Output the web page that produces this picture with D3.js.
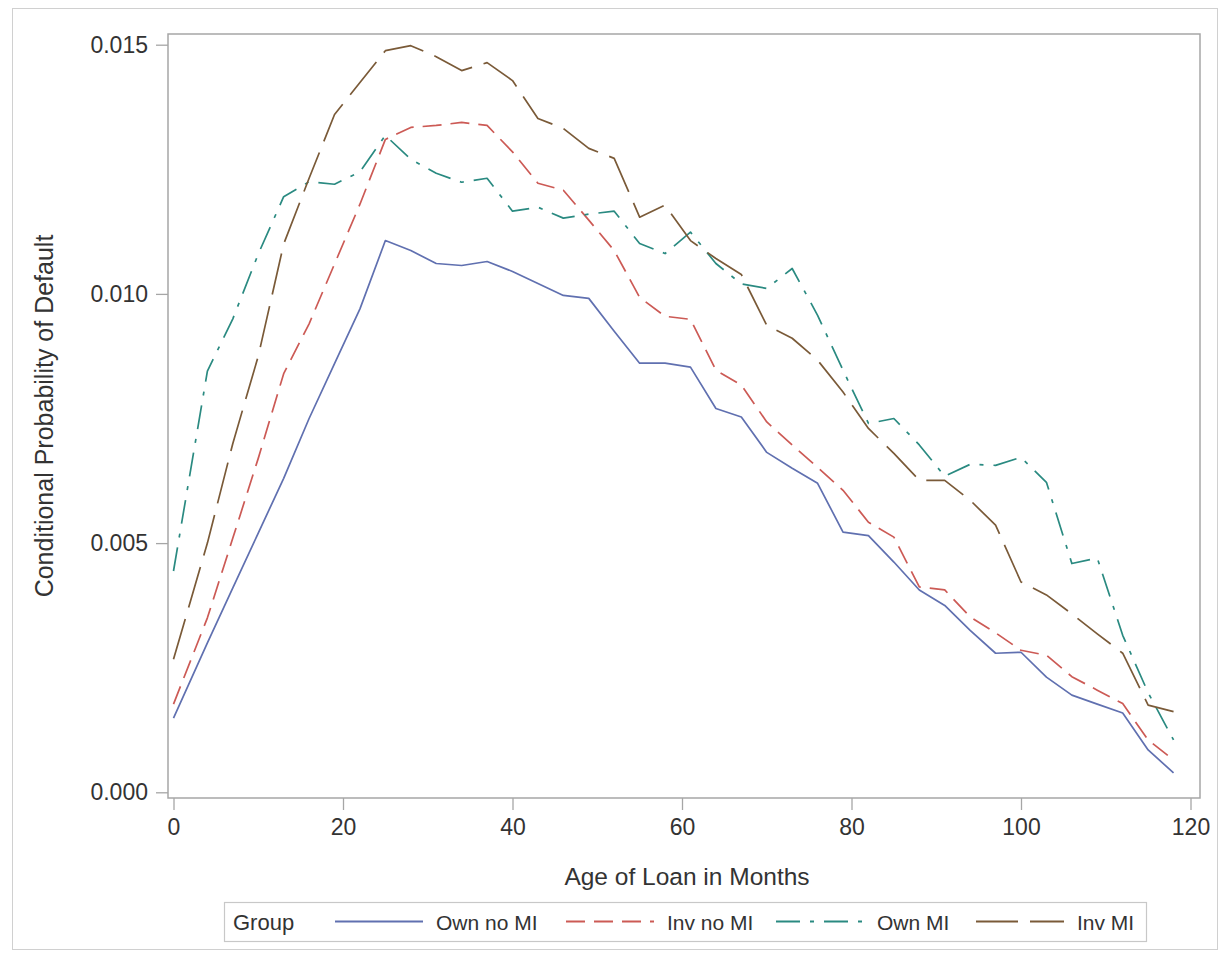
<!DOCTYPE html>
<html>
<head>
<meta charset="utf-8">
<script src="https://cdn.jsdelivr.net/npm/d3@7/dist/d3.min.js"></script>
<style>
  html, body { margin: 0; padding: 0; background: #fff; }
  svg { display: block; }
  text { font-family: "Liberation Sans", Arial, sans-serif; fill: #333; }
</style>
</head>
<body>
<svg id="chart" width="1221" height="955"></svg>
<script>
// Loan age in months at which each conditional default rate was measured
const ages = [0, 4, 7, 10, 13, 16, 19, 22, 25, 28, 31, 34, 37, 40, 43, 46, 49, 52, 55, 58,
              61, 64, 67, 70, 73, 76, 79, 82, 85, 88, 91, 94, 97, 100, 103, 106, 109, 112, 115, 118];

// Conditional probability of default by group
const ownNoMI = [0.00149, 0.0030, 0.0041, 0.0052, 0.0063, 0.0075, 0.0086, 0.0097, 0.01107, 0.01087,
                 0.01061, 0.01057, 0.01065, 0.01045, 0.01021, 0.00997, 0.00991, 0.00925, 0.00861, 0.00861,
                 0.00853, 0.00770, 0.00753, 0.00682, 0.00650, 0.00620, 0.00522, 0.00515, 0.00462, 0.00406,
                 0.00375, 0.00325, 0.00279, 0.00281, 0.00231, 0.00195, 0.00177, 0.00159, 0.00085, 0.00039];

const invNoMI = [0.00177, 0.0035, 0.0051, 0.0067, 0.0084, 0.0094, 0.0106, 0.0118, 0.01310, 0.01334,
                 0.01338, 0.01344, 0.01338, 0.01285, 0.01222, 0.01208, 0.01148, 0.01087, 0.00993, 0.00955,
                 0.00949, 0.00847, 0.00817, 0.00743, 0.00697, 0.00652, 0.00606, 0.00542, 0.00512, 0.00412,
                 0.00406, 0.00352, 0.00320, 0.00285, 0.00275, 0.00232, 0.00205, 0.00178, 0.00105, 0.00065];

const ownMI = [0.00444, 0.00845, 0.0095, 0.0108, 0.01195, 0.01225, 0.0122, 0.01245, 0.01318, 0.01270,
               0.01242, 0.01224, 0.01232, 0.01166, 0.01174, 0.01152, 0.01160, 0.01166, 0.01101, 0.01081,
               0.01124, 0.01061, 0.01020, 0.01011, 0.01051, 0.00957, 0.00847, 0.00740, 0.00750, 0.00697,
               0.00634, 0.00658, 0.00656, 0.00672, 0.00622, 0.00459, 0.00470, 0.00315, 0.00200, 0.00105];

const invMI = [0.00267, 0.0050, 0.0070, 0.00875, 0.0110, 0.01232, 0.0136, 0.01424, 0.01488, 0.01498,
               0.01476, 0.01448, 0.01464, 0.01428, 0.01352, 0.01332, 0.01292, 0.01272, 0.01154, 0.01178,
               0.01107, 0.01071, 0.01039, 0.00937, 0.00911, 0.00867, 0.00803, 0.00730, 0.00680, 0.00626,
               0.00626, 0.00586, 0.00536, 0.00422, 0.00396, 0.00358, 0.00318, 0.00279, 0.00175, 0.00162];

const groupNames = ["Own no MI", "Inv no MI", "Own MI", "Inv MI"];
const groupValues = [ownNoMI, invNoMI, ownMI, invMI];
const groupColors = ["#6070b0", "#cc5a55", "#2a8a81", "#7a5a38"];
const groupDashes = [null, "19,9", "24,10,4,10", "42,12"];

const xTicks = [0, 20, 40, 60, 80, 100, 120];
const yTicks = [0, 0.005, 0.010, 0.015];

const FONT = "'Liberation Sans', Arial, sans-serif";

const svg = d3.select("#chart");

// Outer graph border
svg.append("rect")
  .attr("x", 12.5).attr("y", 8.5).attr("width", 1205).attr("height", 941)
  .attr("fill", "none").attr("stroke", "#d0d0d0").attr("stroke-width", 1);

const frame = { left: 168, right: 1200, top: 34, bottom: 798 };

const x = d3.scaleLinear().domain([0, 120]).range([173.5, 1190.5]);
const y = d3.scaleLinear().domain([0, 0.015]).range([792.3, 44.7]);

// Axes
const xAxis = svg.append("g")
  .attr("transform", `translate(0,${frame.bottom})`)
  .call(d3.axisBottom(x).tickValues(xTicks).tickSize(12).tickPadding(9).tickFormat(d3.format("d")));
const yAxis = svg.append("g")
  .attr("transform", `translate(${frame.left},0)`)
  .call(d3.axisLeft(y).tickValues(yTicks).tickSize(12).tickPadding(8).tickFormat(d3.format(".3f")));

[xAxis, yAxis].forEach(g => {
  g.select(".domain").remove();
  g.selectAll(".tick line").attr("stroke", "#a6a6a6").attr("stroke-width", 1.3);
  g.selectAll(".tick text")
    .attr("font-family", FONT)
    .attr("font-size", 23).attr("fill", "#333");
});

// Plot frame
svg.append("rect")
  .attr("x", frame.left).attr("y", frame.top)
  .attr("width", frame.right - frame.left).attr("height", frame.bottom - frame.top)
  .attr("fill", "none").attr("stroke", "#a6a6a6").attr("stroke-width", 1.5);

// Series lines
const line = d3.line()
  .x((d, i) => x(ages[i]))
  .y(d => y(d));

groupValues.forEach((vals, k) => {
  svg.append("path")
    .datum(vals)
    .attr("d", line)
    .attr("fill", "none")
    .attr("stroke", groupColors[k])
    .attr("stroke-width", 1.7)
    .attr("stroke-linejoin", "round")
    .attr("stroke-dasharray", groupDashes[k]);
});

// Axis titles
svg.append("text")
  .attr("x", 687).attr("y", 885)
  .attr("text-anchor", "middle").attr("font-size", 24.5)
  .text("Age of Loan in Months");

svg.append("text")
  .attr("transform", `translate(53,416) rotate(-90)`)
  .attr("text-anchor", "middle").attr("font-size", 25)
  .text("Conditional Probability of Default");

// Legend: title, then a swatch line and label per group
const legend = svg.append("g");
legend.append("rect")
  .attr("x", 224.5).attr("y", 902.5).attr("width", 922).attr("height", 39)
  .attr("fill", "none").attr("stroke", "#c8c8c8").attr("stroke-width", 1.2);
legend.append("text")
  .attr("x", 233).attr("y", 930).attr("font-size", 22).text("Group");

const swatchStart = [335, 566, 776, 976];
const swatchLen = 88;
groupNames.forEach((name, k) => {
  const x0 = swatchStart[k];
  legend.append("line")
    .attr("x1", x0).attr("x2", x0 + swatchLen).attr("y1", 921.5).attr("y2", 921.5)
    .attr("stroke", groupColors[k]).attr("stroke-width", 1.8)
    .attr("stroke-dasharray", groupDashes[k]);
  legend.append("text")
    .attr("x", x0 + swatchLen + 13).attr("y", 930).attr("font-size", 21).text(name);
});
</script>
</body>
</html>
